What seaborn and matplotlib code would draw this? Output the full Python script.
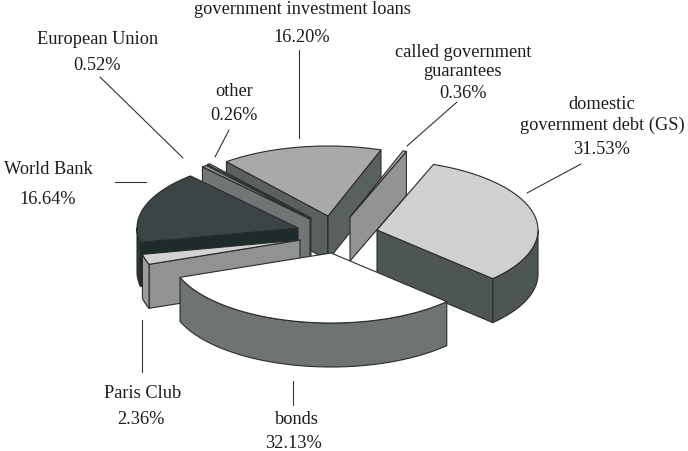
import numpy as np
import matplotlib
matplotlib.use("Agg")
import matplotlib.pyplot as plt
import seaborn as sns

# data (clockwise order, starting at the upper right)
names = ["domestic\ngovernment debt (GS)", "bonds", "Paris Club", "World Bank",
         "European Union", "other", "government investment loans",
         "called government\nguarantees"]
shares = [31.53, 32.13, 2.36, 16.64, 0.52, 0.26, 16.20, 0.36]
pct_labels = [f"{v:.2f}%" for v in shares]

sns.set_theme(style="white")
plt.rcParams["font.family"] = ["Liberation Serif", "DejaVu Serif"]

# styling / geometry of the exploded 3-D pie
START, RX, RY, DEPTH = 69.5, 161.0, 70.0, 44.0
apex = [(377, 230), (331, 253), (300, 240), (298, 228),
        (310, 219), (311, 218), (328, 216), (350, 217)]
top_col = ["#d0d0d0", "#ffffff", "#d2d2d2", "#3c4545",
           "#8a8d8d", "#c4c4c4", "#a9a9a9", "#b0b0b0"]
wall_col = ["#4d5655", "#6e7373", "#909293", "#1f2a2a",
            "#707575", "#707575", "#586060", "#919394"]
outer_col = ["#4d5655", "#6e7373", "#9a9c9c", "#2a3535",
             "#707575", "#707575", "#586060", "#919394"]
draw_order = [6, 5, 4, 3, 2, 7, 0, 1]
EDGE = "#2b2b2b"

fig = plt.figure(figsize=(6.88, 4.51), dpi=100, facecolor="white")
ax = fig.add_axes([0, 0, 1, 1])
ax.set_xlim(0, 688)
ax.set_ylim(451, 0)
ax.axis("off")


def rim(cx, cy, a0, a1, dz=0.0, n=80):
    t = np.radians(np.linspace(a0, a1, n))
    return cx + RX * np.cos(t), cy - RY * np.sin(t) + dz


def radial_wall(cx, cy, ang, color, z):
    x, y = rim(cx, cy, ang, ang, n=1)
    ax.fill([cx, x[0], x[0], cx], [cy, y[0], y[0] + DEPTH, cy + DEPTH],
            fc=color, ec=EDGE, lw=0.8, zorder=z, joinstyle="round")


edges = START - np.cumsum([0.0] + shares) * 3.6
for z, i in enumerate(draw_order):
    cx, cy = apex[i]
    hi, lo = edges[i], edges[i + 1]
    base = z * 10
    # radial walls, only when they face the viewer
    if np.sin(np.radians(hi + 90)) < 0:
        radial_wall(cx, cy, hi, wall_col[i], base + 1)
    if np.sin(np.radians(lo - 90)) < 0:
        radial_wall(cx, cy, lo, wall_col[i], base + 2)
    # outer wall: the front part of the arc
    for k in range(-2, 1):
        a0, a1 = min(hi, 360 * k), max(lo, 360 * k - 180)
        if a0 > a1:
            x, y = rim(cx, cy, a0, a1)
            ax.fill(np.r_[x, x[::-1]], np.r_[y, y[::-1] + DEPTH],
                    fc=outer_col[i], ec=EDGE, lw=0.8, zorder=base + 3)
    # top face
    x, y = rim(cx, cy, hi, lo)
    ax.fill(np.r_[cx, x], np.r_[cy, y], fc=top_col[i], ec=EDGE, lw=0.8,
            zorder=base + 4, joinstyle="round")

# labels
TXT = "#1c1c1c"
FS = 13.2
label_pos = [(602, 115), (297, 419), (143, 394), (48, 170),
             (98, 39), (234, 92), (302, 10), (463, 62)]
pct_pos = [(602, 149), (293, 443), (141, 420), (48, 200),
           (97, 66), (234, 116), (302, 37), (463, 93)]
line_gap = [1.32, 1, 1, 1, 1, 1, 1, 1.17]
for n, p, lp, pp, g in zip(names, pct_labels, label_pos, pct_pos, line_gap):
    ax.text(lp[0], lp[1], n, ha="center", va="center",
            fontsize=FS, color=TXT, zorder=200, linespacing=g)
    ax.text(pp[0], pp[1], p, ha="center", va="center", fontsize=FS, color=TXT, zorder=200)

# leader lines
leaders = [((581, 164), (527, 193)), ((293, 381), (293, 405)), ((142, 320), (142, 372)),
           ((115, 182), (146, 182)), ((100, 77), (183, 158)), ((229, 130), (215, 157)),
           ((299, 50), (299, 138)), ((457, 102), (407, 146))]
for a, b in leaders:
    ax.plot([a[0], b[0]], [a[1], b[1]], color="#333333", lw=0.8, zorder=150)

sns.despine(ax=ax, left=True, bottom=True)
fig.savefig("out.png", dpi=100, facecolor="white")
